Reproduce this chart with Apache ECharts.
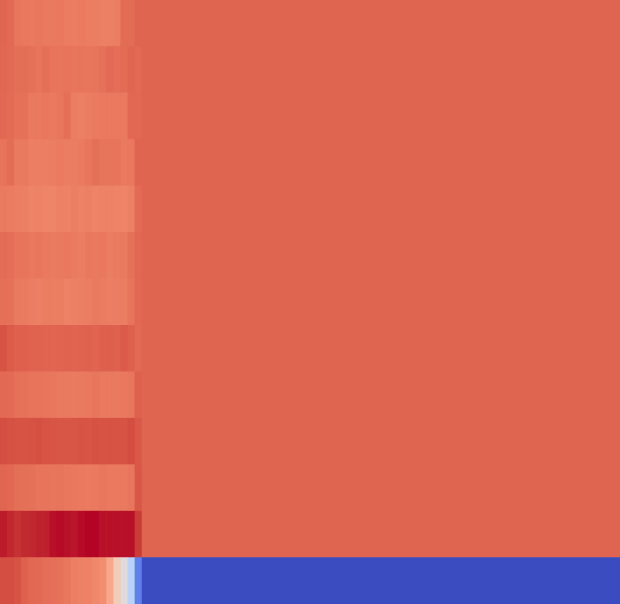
<!DOCTYPE html>
<html>
<head>
<meta charset="utf-8">
<script src="https://cdn.jsdelivr.net/npm/echarts@6/dist/echarts.min.js"></script>
<style>html,body{margin:0;padding:0;background:#fff}#c{width:620px;height:604px}</style>
</head>
<body>
<div id="c"></div>
<script>
// Row and column categories
var rowLabels = ['r0','r1','r2','r3','r4','r5','r6','r7','r8','r9','r10','r11','r12'];
var narrowCols = ['c0','c1','c2','c3','c4','c5','c6','c7','c8','c9','c10','c11','c12','c13','c14','c15','c16','c17','c18','c19'];
var wideCols = ['c20'];

// Cell values (0..1 on the coolwarm scale), one array per row for the narrow columns
var row0  = [.863,.857,.831,.827,.825,.829,.823,.823,.827,.819,.817,.821,.817,.815,.810,.810,.815,.851,.851,.867];
var row1  = [.861,.853,.846,.846,.842,.833,.844,.835,.831,.835,.831,.833,.831,.833,.842,.853,.848,.851,.863,.857];
var row2  = [.859,.851,.842,.842,.823,.825,.829,.823,.831,.844,.815,.810,.815,.821,.823,.825,.823,.825,.859,.859];
var row3  = [.835,.849,.825,.825,.8125,.8125,.8125,.817,.821,.815,.815,.821,.831,.844,.833,.833,.835,.825,.827,.865];
var row4  = [.825,.819,.8125,.810,.804,.806,.800,.800,.808,.806,.8125,.806,.810,.804,.806,.806,.802,.800,.810,.853];
var row5  = [.851,.848,.835,.833,.827,.831,.825,.821,.823,.827,.821,.815,.827,.825,.827,.817,.821,.823,.842,.859];
var row6  = [.844,.842,.823,.821,.815,.810,.817,.817,.817,.806,.810,.8125,.815,.823,.819,.8125,.815,.817,.835,.859];
var row7  = [.8985,.883,.875,.875,.869,.869,.867,.863,.867,.869,.865,.869,.871,.867,.873,.877,.871,.887,.873,.855];
var row8  = [.857,.853,.842,.840,.835,.835,.831,.829,.825,.825,.821,.825,.827,.831,.825,.825,.823,.827,.831,.873];
var row9  = [.9095,.902,.8985,.8985,.902,.906,.8985,.8965,.8945,.8945,.8945,.8985,.8965,.902,.8985,.902,.8985,.8985,.911,.891];
var row10 = [.863,.859,.846,.844,.842,.835,.833,.831,.833,.829,.827,.825,.821,.825,.829,.825,.823,.825,.831,.8925];
var row11 = [.98,.97,.955,.965,.97,.975,.975,.99,.995,.99,.985,.995,1.0,1.0,.99,.99,.99,.99,.99,.94];
var row12 = [.91,.91,.90,.875,.86,.855,.848,.845,.84,.83,.8125,.808,.805,.79,.78,.715,.595,.51,.38,.12];
var narrowRows = [row0,row1,row2,row3,row4,row5,row6,row7,row8,row9,row10,row11,row12];

// Wide last column, one value per row
var wideValues = [.865,.865,.865,.865,.865,.865,.865,.865,.865,.865,.865,.865,0.0];

// coolwarm colormap stops
var coolwarm = [
 [59,76,192],[68,90,204],[77,104,215],[87,117,225],[98,130,234],[108,142,241],[119,154,247],[130,165,251],
 [141,176,254],[152,185,255],[163,194,255],[174,201,253],[184,208,249],[194,213,244],[204,217,238],[213,219,230],
 [221,221,221],[229,216,209],[236,211,197],[241,204,184],[245,196,172],[247,187,160],[247,177,148],[247,166,137],
 [244,154,123],[241,141,112],[236,127,99],[229,112,88],[222,96,77],[213,80,66],[203,62,56],[192,40,47],[180,4,38]
].map(function(c){return 'rgb('+c.join(',')+')';});

var narrowData = [];
narrowRows.forEach(function(r, ri){ r.forEach(function(v, ci){ narrowData.push([ci, ri, v]); }); });
var wideData = wideValues.map(function(v, ri){ return [0, ri, v]; });

var chart = echarts.init(document.getElementById('c'), null, {renderer:'canvas'});
chart.setOption({
  animation: false,
  grid: [
    {left: 0, top: 0, width: 142, height: 604, show:true, borderWidth:0, backgroundColor:'rgb(226,106,84)'},
    {left: 142, top: 0, width: 478, height: 604, show:true, borderWidth:0, backgroundColor:'rgb(224,101,80)'}
  ],
  xAxis: [
    {type:'category', data: narrowCols, gridIndex:0, show:false},
    {type:'category', data: wideCols, gridIndex:1, show:false}
  ],
  yAxis: [
    {type:'category', data: rowLabels, gridIndex:0, inverse:true, show:false},
    {type:'category', data: rowLabels, gridIndex:1, inverse:true, show:false}
  ],
  visualMap: {
    show:false, min:0, max:1, dimension:2, seriesIndex:[0,1],
    inRange:{color: coolwarm}
  },
  series: [
    {type:'heatmap', xAxisIndex:0, yAxisIndex:0, data: narrowData, itemStyle:{borderWidth:0}, emphasis:{disabled:true}},
    {type:'heatmap', xAxisIndex:1, yAxisIndex:1, data: wideData, itemStyle:{borderWidth:0}, emphasis:{disabled:true}}
  ]
});
</script>
</body>
</html>
